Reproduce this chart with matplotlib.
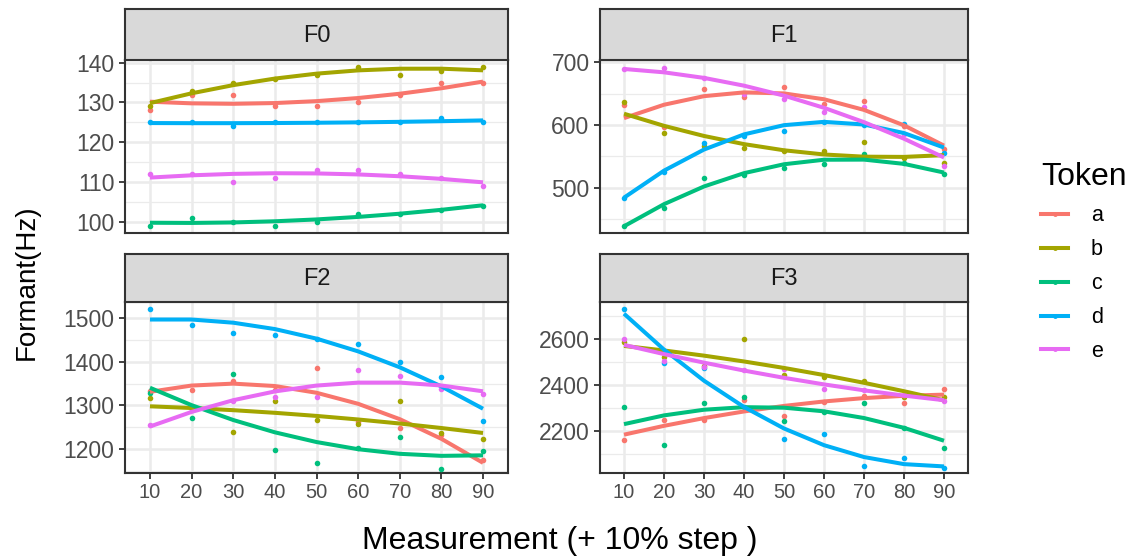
import numpy as np
import matplotlib
matplotlib.use("Agg")
import matplotlib.pyplot as plt
from matplotlib.lines import Line2D

plt.rcParams["font.family"] = ["Liberation Sans", "DejaVu Sans"]

# measurement steps (% of token duration)
steps = [10, 20, 30, 40, 50, 60, 70, 80, 90]
tokens = ["a", "b", "c", "d", "e"]
token_colors = ["#F8766D", "#A3A500", "#00BF7D", "#00B0F6", "#E76BF3"]

f0_a = [128, 132, 132, 129, 129, 130, 132, 135, 135]
f0_b = [129, 133, 135, 136, 137, 139, 137, 138, 139]
f0_c = [99, 101, 100, 99, 100, 102, 102, 103, 104]
f0_d = [125, 125, 124, 125, 125, 125, 125, 126, 125]
f0_e = [112, 112, 110, 111, 113, 113, 112, 111, 109]

f1_a = [632, 597, 657, 645, 661, 633, 639, 598, 561]
f1_b = [636, 587, 566, 564, 559, 559, 573, 548, 539]
f1_c = [438, 468, 515, 520, 532, 538, 553, 539, 522]
f1_d = [483, 525, 571, 582, 591, 604, 600, 601, 556]
f1_e = [690, 691, 675, 649, 642, 621, 628, 585, 535]

f2_a = [1332, 1335, 1356, 1335, 1387, 1263, 1249, 1232, 1175]
f2_b = [1318, 1293, 1238, 1309, 1267, 1257, 1310, 1236, 1223]
f2_c = [1329, 1272, 1371, 1197, 1169, 1203, 1228, 1155, 1196]
f2_d = [1521, 1485, 1467, 1462, 1452, 1442, 1400, 1366, 1265]
f2_e = [1255, 1290, 1310, 1320, 1320, 1382, 1368, 1338, 1326]

f3_a = [2158, 2248, 2247, 2334, 2266, 2325, 2350, 2323, 2381]
f3_b = [2590, 2521, 2484, 2600, 2444, 2434, 2418, 2347, 2349]
f3_c = [2305, 2136, 2320, 2349, 2244, 2283, 2323, 2213, 2126]
f3_d = [2731, 2498, 2473, 2305, 2165, 2184, 2047, 2079, 2035]
f3_e = [2600, 2505, 2480, 2467, 2470, 2384, 2378, 2355, 2330]

panel_names = ["F0", "F1", "F2", "F3"]
panel_data = [
    [f0_a, f0_b, f0_c, f0_d, f0_e],
    [f1_a, f1_b, f1_c, f1_d, f1_e],
    [f2_a, f2_b, f2_c, f2_d, f2_e],
    [f3_a, f3_b, f3_c, f3_d, f3_e],
]
y_major = [[100, 110, 120, 130, 140], [500, 600, 700],
           [1200, 1300, 1400, 1500], [2200, 2400, 2600]]
y_lims = [(97.2, 140.7), (428, 703.7), (1145.6, 1538), (2016, 2764.6)]

W, H = 1125, 556
fig = plt.figure(figsize=(W / 100, H / 100), dpi=100)

# pixel boxes: (left, right) and (strip_top, panel_top, panel_bottom)
cols = [(125, 508), (600, 968)]
rows = [(9, 60, 232.7), (254, 301.7, 472.7)]

dark = "#333333"

for i, name in enumerate(panel_names):
    l, r = cols[i % 2]
    st, pt, pb = rows[i // 2]
    ax = fig.add_axes([l / W, 1 - pb / H, (r - l) / W, (pb - pt) / H])
    sax = fig.add_axes([l / W, 1 - pt / H, (r - l) / W, (pt - st) / H])

    sax.set_facecolor("#D9D9D9")
    sax.set_xticks([])
    sax.set_yticks([])
    for sp in sax.spines.values():
        sp.set_color(dark)
        sp.set_linewidth(1.5)
    sax.text(0.5, 0.48, name, ha="center", va="center", fontsize=17,
             color="#1A1A1A", transform=sax.transAxes)

    majors = y_major[i]
    step = majors[1] - majors[0]
    minors = [m + step / 2 for m in [majors[0] - step] + majors]
    for yv in minors:
        ax.axhline(yv, color="#EBEBEB", lw=0.9, zorder=0)
    for yv in majors:
        ax.axhline(yv, color="#EBEBEB", lw=1.8, zorder=0)
    for xv in steps:
        ax.axvline(xv, color="#EBEBEB", lw=1.8, zorder=0)

    for vals, col in zip(panel_data[i], token_colors):
        ax.scatter(steps, vals, s=16, color=col, lw=0, zorder=3)
        # quadratic trend, like geom_smooth(method = "lm", y ~ poly(x, 2))
        coef = np.polyfit(steps, vals, 2)
        ax.plot(steps, np.polyval(coef, steps), color=col, lw=2.9,
                zorder=4, solid_capstyle="butt")

    ax.set_xlim(4, 96)
    ax.set_ylim(*y_lims[i])
    ax.set_yticks(majors)
    ax.set_xticks(steps)
    ax.tick_params(axis="both", direction="out", length=4, width=1.3,
                   color=dark, labelcolor="#4D4D4D", labelsize=16.5)
    ax.tick_params(axis="x", labelsize=14.5)
    if i < 2:
        ax.tick_params(axis="x", length=0, labelbottom=False)
    for sp in ax.spines.values():
        sp.set_color(dark)
        sp.set_linewidth(1.5)
    ax.set_facecolor("white")

fig.text(27 / W, 1 - 282 / H, "Formant(Hz)", rotation=90,
         ha="center", va="center", fontsize=20)
fig.text(560 / W, 1 - 541 / H, "Measurement (+ 10% step )",
         ha="center", va="center", fontsize=23)

handles = [Line2D([0], [0], color=c, lw=2.9, marker="o", markersize=2.5)
           for c in token_colors]
leg = fig.legend(handles, tokens, loc="upper left",
                 bbox_to_anchor=(1022 / W, 1 - 143 / H), frameon=False,
                 title="Token", fontsize=15.5, title_fontsize=23,
                 handlelength=1.25, labelspacing=0.6, handletextpad=1.05)
leg._legend_box.align = "left"

fig.savefig("out.png", dpi=100)
